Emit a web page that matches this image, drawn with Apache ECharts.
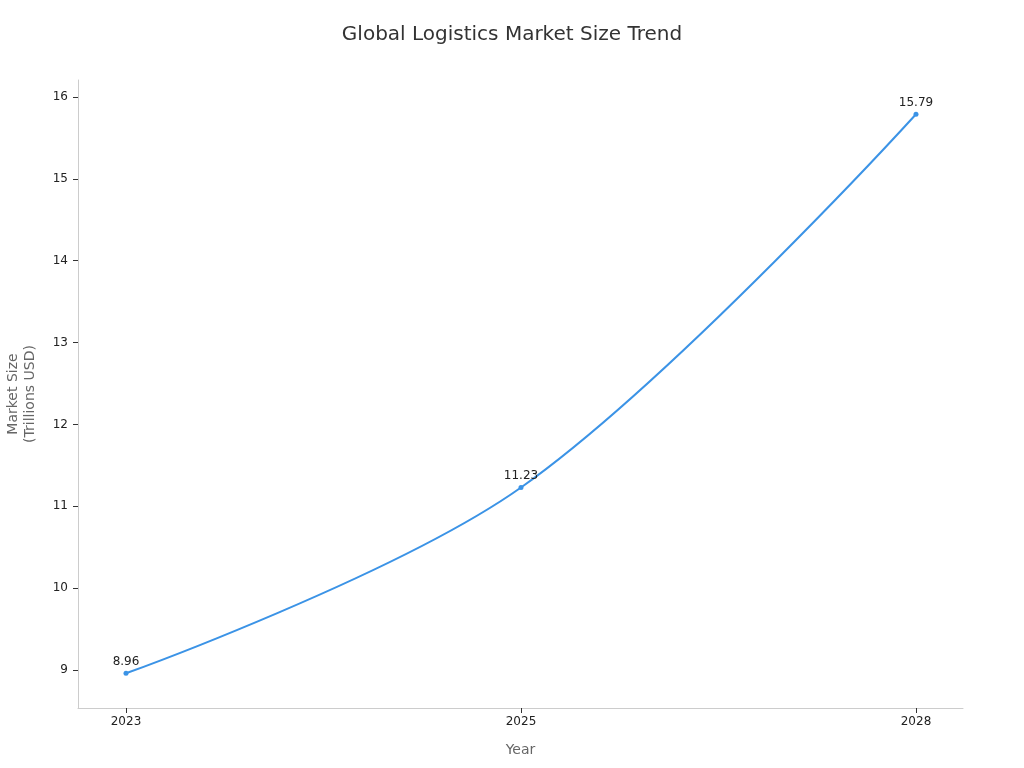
<!DOCTYPE html>
<html>
<head>
<meta charset="utf-8">
<script src="https://cdn.jsdelivr.net/npm/echarts@6/dist/echarts.min.js"></script>
<style>html,body{margin:0;padding:0;background:#fff}#c{width:1024px;height:768px}</style>
</head>
<body>
<div id="c"></div>
<script>
const years = ['2023', '2025', '2028'];
const marketSize = [8.96, 11.23, 15.79];
const yTicks = [9, 10, 11, 12, 13, 14, 15, 16];

const chart = echarts.init(document.getElementById('c'), null, {renderer: 'canvas'});
const font = 'DejaVu Sans';
chart.setOption({
  backgroundColor: '#fff',
  animation: false,
  textStyle: {fontFamily: font},
  title: {
    text: 'Global Logistics Market Size Trend',
    left: 'center', top: 20,
    textStyle: {fontFamily: font, fontSize: 20, fontWeight: 'normal', color: '#333'}
  },
  grid: {left: 78, right: 61, top: 80, bottom: 60, containLabel: false, outerBoundsMode: 'none'},
  xAxis: {
    type: 'value',
    min: -0.1215, max: 2.119,
    name: 'Year', nameLocation: 'middle', nameGap: 35,
    nameTextStyle: {fontFamily: font, fontSize: 14, color: '#666'},
    splitLine: {show: false},
    axisLine: {show: true, onZero: false, lineStyle: {color: '#ccc'}},
    axisTick: {show: true, customValues: [0, 1, 2], length: 5, lineStyle: {color: '#333'}},
    axisLabel: {customValues: [0, 1, 2], formatter: v => years[Math.round(v)], color: '#222', fontSize: 12, fontFamily: font, margin: 8}
  },
  yAxis: {
    type: 'value',
    min: 8.536, max: 16.208,
    name: 'Market Size\n(Trillions USD)', nameLocation: 'middle', nameGap: 39,
    nameTextStyle: {fontFamily: font, fontSize: 14, color: '#666', lineHeight: 17},
    splitLine: {show: false},
    axisLine: {show: true, onZero: false, lineStyle: {color: '#ccc'}},
    axisTick: {show: true, customValues: yTicks, length: 5, lineStyle: {color: '#333'}},
    axisLabel: {customValues: yTicks, color: '#222', fontSize: 12, fontFamily: font, margin: 10}
  },
  series: [{
    type: 'line',
    data: marketSize.map((v, i) => [i, v]),
    smooth: 0.35,
    symbol: 'circle', symbolSize: 5,
    lineStyle: {color: '#3b93e6', width: 2},
    itemStyle: {color: '#3b93e6'},
    label: {show: true, position: 'top', color: '#222', fontSize: 12, fontFamily: font, distance: 3}
  }]
});
</script>
</body>
</html>
